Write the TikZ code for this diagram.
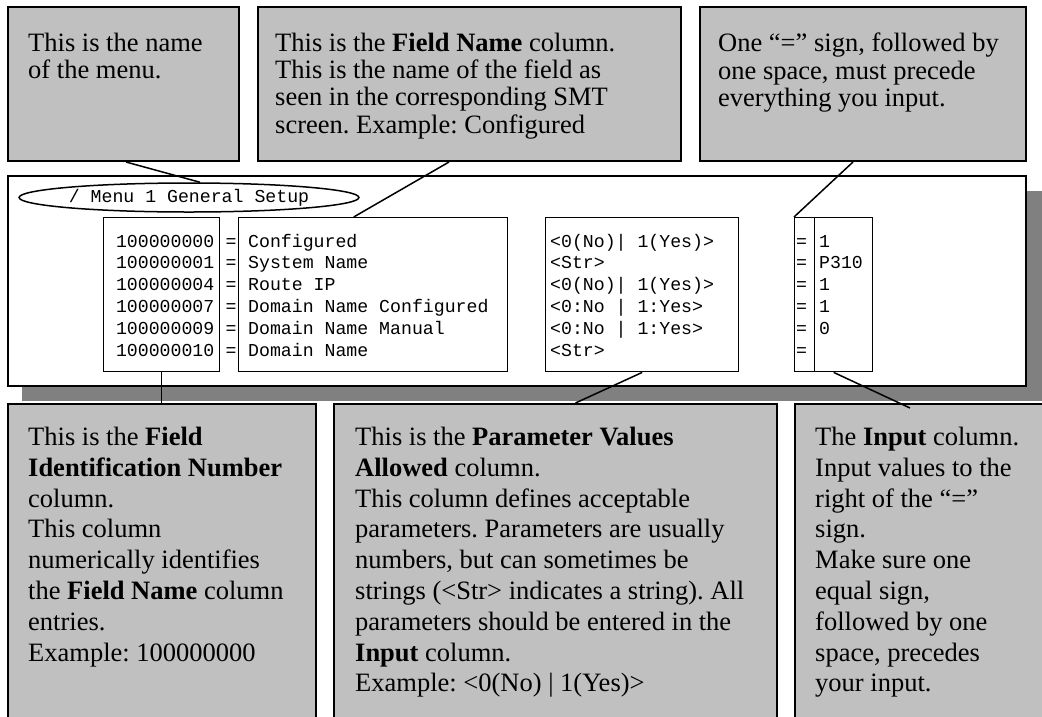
\documentclass[tikz,border=0pt]{standalone}
\usepackage{fontspec}
\setmainfont{Liberation Serif}
\setmonofont{Liberation Mono}
\usetikzlibrary{shapes.geometric,calc}
\definecolor{boxgray}{HTML}{C0C0C0}
\definecolor{shadowgray}{HTML}{808080}
\frenchspacing
\begin{document}
\begin{tikzpicture}[x=1pt,y=-1pt,
  callout/.style={draw=black, fill=boxgray, line width=2pt, anchor=north west, inner sep=0pt},
  panelbox/.style={draw=black, fill=white, line width=2pt, anchor=north west, inner sep=0pt},
  colbox/.style={draw=black, fill=white, line width=1.4pt, anchor=north west, inner sep=0pt},
  toptext/.style={anchor=north west, inner sep=0pt, align=left, font=\frenchspacing\fontsize{26.5}{27.2}\selectfont},
  bottext/.style={anchor=north west, inner sep=0pt, align=left, font=\frenchspacing\fontsize{26.5}{30.8}\selectfont},
  mono/.style={inner sep=0pt, font=\ttfamily\fontsize{18.2}{21.8}\selectfont},
  conn/.style={draw=black, line width=1.5pt}]
\clip (0,0) rectangle (1042,716);
\useasboundingbox (0,0) rectangle (1042,716);

% top callouts
\node[callout, minimum width=231, minimum height=154] (tb1) at (7,6) {};
\node[callout, minimum width=423, minimum height=154] (tb2) at (257,6) {};
\node[callout, minimum width=326, minimum height=154] (tb3) at (699,6) {};
\node[toptext] (tb1t) at (28,33) {This is the name\\of the menu.};
\node[toptext] (tb2t) at (275,33) {This is the \textbf{Field Name} column.\\This is the name of the field as\\seen in the corresponding SMT\\screen. Example: Configured};
\node[toptext] (tb3t) at (718,33) {One “=” sign, followed by\\one space, must precede\\everything you input.};

% panel with shadow
\node[anchor=north west, fill=shadowgray, inner sep=0pt, minimum width=1030, minimum height=210] (shadow) at (22,191) {};
\node[panelbox, minimum width=1018, minimum height=210] (panel) at (7,175) {};

% ellipse with menu name
\node[draw=black, ellipse, line width=1.5pt, minimum width=288, minimum height=29, inner sep=0pt, mono] (menu) at (189,197.5) {/ Menu 1 General Setup};

% column boxes
\node[colbox, minimum width=116, minimum height=154] (idbox) at (103,217) {};
\node[colbox, minimum width=269, minimum height=154] (fnbox) at (238,217) {};
\node[colbox, minimum width=193, minimum height=154] (pvbox) at (545,217) {};
\node[colbox, minimum width=20, minimum height=154] (eqbox) at (794,217) {};
\node[colbox, minimum width=58, minimum height=154] (inbox) at (814,217) {};

% rows
\foreach \id/\fn/\pv/\iv [count=\i] in {
  100000000/{Configured}/{<0(No)| 1(Yes)>}/1,
  100000001/{System Name}/{<Str>}/P310,
  100000004/{Route IP}/{<0(No)| 1(Yes)>}/1,
  100000007/{Domain Name Configured}/{<0:No | 1:Yes>}/1,
  100000009/{Domain Name Manual}/{<0:No | 1:Yes>}/0,
  100000010/{Domain Name}/{<Str>}/{}}{
  \node[mono, anchor=base east] (id\i) at (214.5,{247+21.8*(\i-1)}) {\id};
  \node[mono, anchor=base west] (eqa\i) at (225.5,{247+21.8*(\i-1)}) {=};
  \node[mono, anchor=base west] (fn\i) at (248,{247+21.8*(\i-1)}) {\fn};
  \node[mono, anchor=base west] (pv\i) at (550,{247+21.8*(\i-1)}) {\pv};
  \node[mono, anchor=base west] (eqb\i) at (796,{247+21.8*(\i-1)}) {=};
  \node[mono, anchor=base west] (iv\i) at (819,{247+21.8*(\i-1)}) {\iv};
}

% bottom callouts
\node[callout, minimum width=308, minimum height=340] (bb1) at (7,403) {};
\node[callout, minimum width=443, minimum height=340] (bb2) at (333,403) {};
\node[callout, minimum width=300, minimum height=340] (bb3) at (794,403) {};
\node[bottext] (bb1t) at (28,427) {This is the \textbf{Field}\\\textbf{Identification Number}\\column.\\This column\\numerically identifies\\the \textbf{Field Name} column\\entries.\\Example: 100000000};
\node[bottext] (bb2t) at (355,427) {This is the \textbf{Parameter Values}\\\textbf{Allowed} column.\\This column defines acceptable\\parameters. Parameters are usually\\numbers, but can sometimes be\\strings (<Str> indicates a string). All\\parameters should be entered in the\\\textbf{Input} column.\\Example: <0(No) | 1(Yes)>};
\node[bottext] (bb3t) at (815,427) {The \textbf{Input} column.\\Input values to the\\right of the “=”\\sign.\\Make sure one\\equal sign,\\followed by one\\space, precedes\\your input.};

% connectors
\draw[conn] ($(tb1.south)+(2.5,0)$) -- ($(menu.north)+(11,0)$);
\draw[conn] ($(tb2.south)+(-20.5,0)$) -- ($(fnbox.north)+(-19.5,0)$);
\draw[conn] ($(tb3.south)+(-10,0)$) -- (eqbox.north west);
\draw[conn] (idbox.south) -- (idbox.south |- bb1.north);
\draw[conn] (pvbox.south) -- ($(bb2.north)+(20,0)$);
\draw[conn] ($(inbox.south)+(-10,0)$) -- ($(bb3.north west)+(116,5)$);
\end{tikzpicture}
\end{document}
